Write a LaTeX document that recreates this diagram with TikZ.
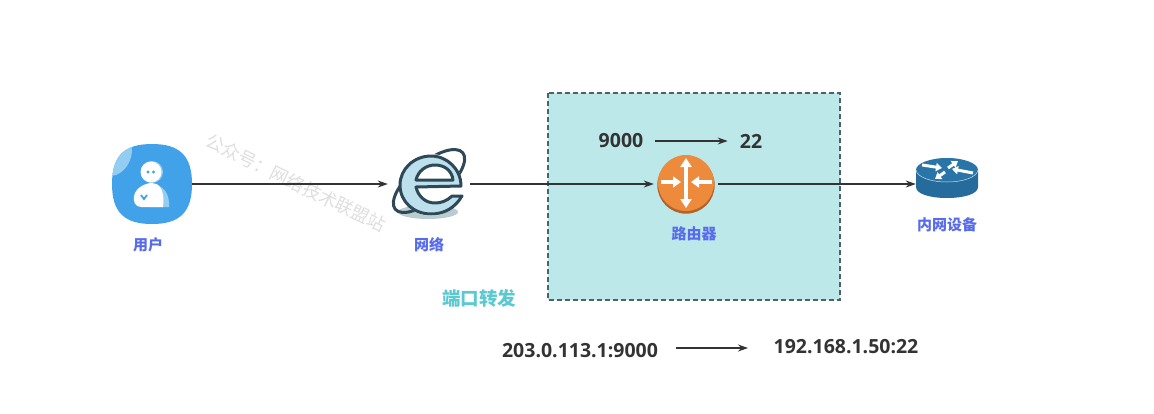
\documentclass[tikz,border=0pt]{standalone}
\usepackage{fontspec}
\usepackage{xcolor}
\setmainfont{Open Sans}
\newfontfamily\cjkfont{Noto Sans CJK SC}
\usetikzlibrary{arrows.meta}
\definecolor{natBox}{RGB}{188,232,233}
\definecolor{natEdge}{RGB}{74,98,104}
\definecolor{lineDark}{RGB}{51,51,51}
\definecolor{labelBlue}{RGB}{88,108,235}
\definecolor{natTeal}{RGB}{92,201,208}
\definecolor{userBlue}{RGB}{65,162,234}
\definecolor{userSoft}{RGB}{147,205,242}
\definecolor{netDark}{RGB}{47,72,88}
\definecolor{netSoft}{RGB}{188,224,236}
\definecolor{netShade}{RGB}{185,205,208}
\definecolor{routerOrange}{RGB}{238,138,60}
\definecolor{routerShade}{RGB}{176,100,44}
\definecolor{deviceTop}{RGB}{42,117,168}
\definecolor{deviceSide}{RGB}{37,107,155}
\newcommand{\IconLabel}[1]{{\cjkfont\fontsize{15}{16}\selectfont\bfseries #1}}
\newcommand{\AddrText}[1]{{\fontsize{19.5}{21}\selectfont\bfseries #1}}
\tikzset{
  iconbox/.style={minimum size=#1,inner sep=0pt},
  flowline/.style={lineDark,line width=1.1pt,-{Stealth[length=10pt,width=7pt]}},
  routerarrow/.style={white,line width=3.4pt},
  devicearrow/.style={white,line width=3pt,-{Triangle[length=6pt,width=8pt]}}
}
\begin{document}
\begin{tikzpicture}[x=1pt,y=-1pt]
\useasboundingbox (0,0) rectangle (1154,413);
\draw[natEdge,fill=natBox,line width=1.2pt,dash pattern=on 5pt off 3pt] (548,93) rectangle (840,300);

\node[iconbox=80pt] (user) at (152,184) {};
\node[iconbox=82pt] (net) at (429,184) {};
\node[iconbox=64pt] (router) at (686,184) {};
\node[iconbox=62pt] (device) at (947,184) {};

\begin{scope}
\clip (152,144) .. controls (180,144) and (192,156) .. (192,184) .. controls (192,212) and (180,224) .. (152,224) .. controls (124,224) and (112,212) .. (112,184) .. controls (112,156) and (124,144) .. (152,144) -- cycle;
\fill[userBlue] (100,130) rectangle (200,230);
\fill[userSoft] (100,130) -- (130,130) -- (132,147) .. controls (133,160) and (125,174) .. (112,176) -- (100,176) -- cycle;
\end{scope}
\fill[userSoft] (152,172) circle (11);
\fill[white] (151,172) circle (10.5);
\fill[userBlue] (148,172) circle (1.6) (153.5,172) circle (1.6);
\fill[userSoft] (150,184) .. controls (162,184) and (170,192) .. (169,207) -- (150,207) -- cycle;
\fill[white] (141,207) .. controls (135,207) and (133,201) .. (134,196) .. controls (136,187) and (146,183) .. (152,183) .. controls (159,183) and (165,189) .. (163,207) -- cycle;
\draw[userBlue,line width=1.8pt] (141,195) -- (144,199) -- (147,195);

\fill[netShade] (428,212) ellipse (30 and 7);
\draw[netDark,line width=3pt] (429,181) [rotate around={40:(429,181)}] ellipse (44 and 18);
\fill[white] (431,185) circle (31);
\draw[netDark,fill=netSoft,line width=3pt,line join=round] (461,186) .. controls (461,169) and (447,156) .. (431,156) .. controls (414,156) and (400,169) .. (400,185) .. controls (400,202) and (414,214) .. (431,214) .. controls (444,214) and (455,208) .. (462,196) -- (452,196) .. controls (447,201) and (441,203) .. (435,203) .. controls (425,203) and (418,196) .. (416,187) -- cycle;
\draw[netDark,fill=white,line width=3pt,line join=round] (416,180) .. controls (418,171) and (426,165) .. (435,165) .. controls (445,165) and (452,171) .. (453,180) -- cycle;

\fill[routerShade] (686,185) circle (28.7);
\fill[routerOrange] (686,183) circle (28);
\draw[routerarrow,{Triangle[length=9pt,width=11pt]}-{Triangle[length=9pt,width=11pt]}] (686,158) -- (686,208);
\draw[routerarrow,-{Triangle[length=8pt,width=11pt]}] (661,182) -- (681,182);
\draw[routerarrow,-{Triangle[length=8pt,width=11pt]}] (712,182) -- (691,182);

\fill[deviceSide] (916,170) -- (916,187) .. controls (916,194) and (930,198) .. (947,198) .. controls (964,198) and (978,194) .. (978,187) -- (978,170) -- cycle;
\fill[deviceTop] (947,170) ellipse (31 and 12);
\draw[white!75!deviceTop,line width=0.5pt] (916,170) .. controls (917,177) and (930,182) .. (947,182) .. controls (964,182) and (977,177) .. (978,170);
\draw[devicearrow] (922,165) -- (942,168);
\draw[devicearrow] (948,168) -- (958,161);
\draw[devicearrow] (973,173) -- (952,169);
\draw[devicearrow] (945,172) -- (935,179);

\node[text=labelBlue] (userLabel) at (148,245) {\IconLabel{用户}};
\node[text=labelBlue] (netLabel) at (429,245) {\IconLabel{网络}};
\node[text=labelBlue] (routerLabel) at (694,234) {\IconLabel{路由器}};
\node[text=labelBlue] (deviceLabel) at (947,225) {\IconLabel{内网设备}};
\node[text=natTeal] (natLabel) at (479,298) {{\cjkfont\fontsize{18.5}{20}\selectfont\bfseries 端口转发}};
\node[text=black!13,rotate=-26] (markText) at (296,183) {{\cjkfont\fontsize{18}{19}\selectfont 公众号：网络技术联盟站}};

\node[text=lineDark,inner sep=0pt] (portIn) at (621,141) {\AddrText{9000}};
\node[text=lineDark,inner sep=0pt] (portOut) at (751,141) {\AddrText{22}};
\node[text=lineDark,inner sep=0pt] (addrIn) at (580,351) {\AddrText{203.0.113.1:9000}};
\node[text=lineDark,inner sep=0pt] (addrOut) at (846,347) {\AddrText{192.168.1.50:22}};
\coordinate (addrFrom) at (676,348);
\coordinate (addrTo) at (748,348);

\draw[flowline] (user.east) -- (net.west);
\draw[flowline] (net.east) -- (router.west);
\draw[flowline] (router.east) -- (device.west);
\draw[flowline,shorten <=12pt,shorten >=12pt] (portIn.east) -- (portOut.west);
\draw[flowline] (addrFrom) -- (addrTo);
\end{tikzpicture}
\end{document}
